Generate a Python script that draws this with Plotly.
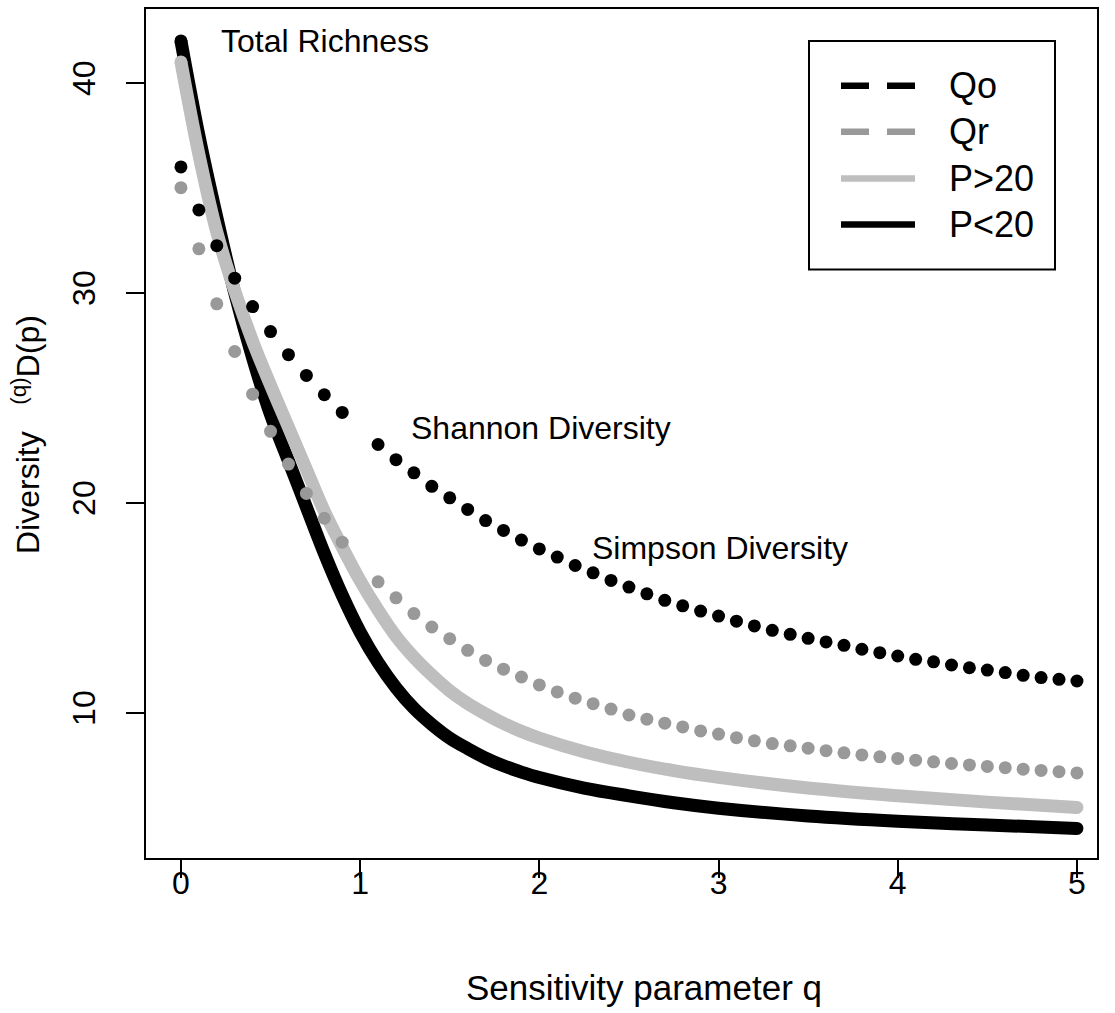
import plotly.graph_objects as go

# ---------------- data ----------------
q_dots = [0.0, 0.1, 0.2, 0.3, 0.4, 0.5, 0.6, 0.7, 0.8, 0.9, 1.0,
          1.1, 1.2, 1.3, 1.4, 1.5, 1.6, 1.7, 1.8, 1.9, 2.0,
          2.1, 2.2, 2.3, 2.4, 2.5, 2.6, 2.7, 2.8, 2.9, 3.0,
          3.1, 3.2, 3.3, 3.4, 3.5, 3.6, 3.7, 3.8, 3.9, 4.0,
          4.1, 4.2, 4.3, 4.4, 4.5, 4.6, 4.7, 4.8, 4.9, 5.0]

qo_vals = [36.0, 33.95, 32.25, 30.7, 29.35, 28.16, 27.06, 26.07, 25.15, 24.31, None,
           22.78, 22.06, 21.43, 20.79, 20.24, 19.69, 19.16, 18.69, 18.23, 17.81,
           17.42, 17.02, 16.67, 16.31, 15.99, 15.67, 15.36, 15.1, 14.85, 14.61,
           14.37, 14.14, 13.93, 13.74, 13.55, 13.38, 13.22, 13.03, 12.87, 12.71,
           12.55, 12.43, 12.28, 12.15, 12.04, 11.92, 11.79, 11.68, 11.6, 11.52]

qr_vals = [35.01, 32.1, 29.48, 27.21, 25.18, 23.41, 21.85, 20.45, 19.27, 18.13, None,
           16.24, 15.48, 14.73, 14.09, 13.53, 12.98, 12.5, 12.08, 11.71, 11.33,
           11.0, 10.7, 10.44, 10.18, 9.9, 9.7, 9.51, 9.33, 9.14, 8.99,
           8.82, 8.67, 8.54, 8.43, 8.32, 8.2, 8.1, 8.0, 7.91, 7.83,
           7.75, 7.67, 7.59, 7.52, 7.45, 7.39, 7.32, 7.26, 7.2, 7.14]

q_line = [0.0, 0.1, 0.2, 0.3, 0.4, 0.5, 0.6, 0.7, 0.8, 0.9, 1.0,
          1.1, 1.2, 1.3, 1.4, 1.5, 1.6, 1.7, 1.8, 1.9, 2.0,
          2.25, 2.5, 2.75, 3.0, 3.5, 4.0, 4.5, 5.0]

p_hi_vals = [41.0, 36.6, 32.9, 30.1, 27.7, 25.6, 23.6, 21.6, 19.6, 17.9, 16.3,
             14.9, 13.65, 12.65, 11.8, 11.05, 10.45, 9.95, 9.5, 9.12, 8.8,
             8.15, 7.65, 7.25, 6.93, 6.42, 6.05, 5.75, 5.5]

p_lo_vals = [42.0, 37.5, 33.6, 30.0, 26.9, 24.2, 22.0, 19.8, 17.6, 15.6, 13.85,
             12.4, 11.2, 10.22, 9.45, 8.8, 8.3, 7.85, 7.48, 7.18, 6.92,
             6.42, 6.05, 5.72, 5.46, 5.09, 4.84, 4.66, 4.5]

x_ticks = [0, 1, 2, 3, 4, 5]
y_ticks = [10, 20, 30, 40]

legend_labels = ["Qo", "Qr", "P>20", "P<20"]

notes = ["Total Richness", "Shannon Diversity", "Simpson Diversity"]
note_x = [0.212, 1.27, 2.28]
note_y = [42.0, 23.56, 17.86]

# ---------------- styling ----------------
BLACK = "#000000"
MID_GREY = "#999999"
LIGHT_GREY = "#BEBEBE"
FONT = "Liberation Sans, Arial, Helvetica, sans-serif"

W, H = 1115, 1013
ML, MR, MT, MB = 146, 18, 7, 155
PW, PH = W - ML - MR, H - MT - MB


def px(x):
    return (x - ML) / PW


def py(y):
    return (H - MB - y) / PH


fig = go.Figure()

# thick lines
for vals, col in [(p_lo_vals, BLACK), (p_hi_vals, LIGHT_GREY)]:
    fig.add_trace(go.Scatter(x=q_line, y=vals, mode="lines",
                             line=dict(color=col, width=13, shape="spline", smoothing=1.0),
                             showlegend=False, hoverinfo="skip"))
    # round end caps
    fig.add_trace(go.Scatter(x=[q_line[0], q_line[-1]], y=[vals[0], vals[-1]], mode="markers",
                             marker=dict(color=col, size=13, line=dict(width=0)),
                             showlegend=False, hoverinfo="skip"))

# dotted series
for vals, col in [(qo_vals, BLACK), (qr_vals, MID_GREY)]:
    fig.add_trace(go.Scatter(x=q_dots, y=vals, mode="markers",
                             marker=dict(color=col, size=13, line=dict(width=0)),
                             showlegend=False, hoverinfo="skip"))

# text labels in plot
for t, xv, yv in zip(notes, note_x, note_y):
    fig.add_annotation(x=xv, y=yv, xref="x", yref="y", text=t, showarrow=False,
                       xanchor="left", yanchor="middle",
                       font=dict(family=FONT, size=32, color=BLACK))

# manual legend
shapes = [dict(type="rect", xref="paper", yref="paper",
               x0=px(809), x1=px(1055), y0=py(268), y1=py(39),
               line=dict(color=BLACK, width=2), fillcolor="white", layer="above")]
leg_styles = [(BLACK, "28px,18px"), (MID_GREY, "28px,18px"), (LIGHT_GREY, "solid"), (BLACK, "solid")]
leg_y = [84, 130, 177, 223]
for lab, (col, dash), yy in zip(legend_labels, leg_styles, leg_y):
    shapes.append(dict(type="line", xref="paper", yref="paper",
                       x0=px(841), x1=px(915), y0=py(yy), y1=py(yy),
                       line=dict(color=col, width=6.5, dash=dash), layer="above"))
    fig.add_annotation(x=px(947), y=py(yy), xref="paper", yref="paper", text=lab,
                       showarrow=False, xanchor="left", yanchor="middle",
                       font=dict(family=FONT, size=36, color=BLACK))

# axis titles
fig.add_annotation(x=px(644), y=py(988), xref="paper", yref="paper",
                   text="Sensitivity parameter q", showarrow=False,
                   xanchor="center", yanchor="middle",
                   font=dict(family=FONT, size=35, color=BLACK))
fig.add_annotation(x=px(26), y=py(434), xref="paper", yref="paper",
                   text="Diversity\u00a0\u00a0\u00a0<sup>(q)</sup>D(p)", showarrow=False,
                   textangle=-90, xanchor="center", yanchor="middle",
                   font=dict(family=FONT, size=32, color=BLACK))

fig.update_layout(
    width=W, height=H,
    margin=dict(l=ML, r=MR, t=MT, b=MB, pad=0),
    paper_bgcolor="white", plot_bgcolor="white",
    shapes=shapes,
    font=dict(family=FONT, color=BLACK),
    xaxis=dict(range=[-0.195, 5.112], tickvals=x_ticks, ticktext=[str(v) for v in x_ticks],
               ticks="outside", ticklen=18, tickwidth=2, tickcolor=BLACK,
               showline=True, linewidth=2, linecolor=BLACK, mirror=True,
               showgrid=False, zeroline=False, ticklabelstandoff=-22,
               tickfont=dict(family=FONT, size=32, color=BLACK)),
    yaxis=dict(range=[3.09, 43.52], tickvals=y_ticks, ticktext=[str(v) for v in y_ticks],
               ticks="outside", ticklen=18, tickwidth=2, tickcolor=BLACK, tickangle=-90,
               showline=True, linewidth=2, linecolor=BLACK, mirror=True,
               showgrid=False, zeroline=False, ticklabelstandoff=18,
               tickfont=dict(family=FONT, size=32, color=BLACK)),
)

fig.write_html("out.html")
